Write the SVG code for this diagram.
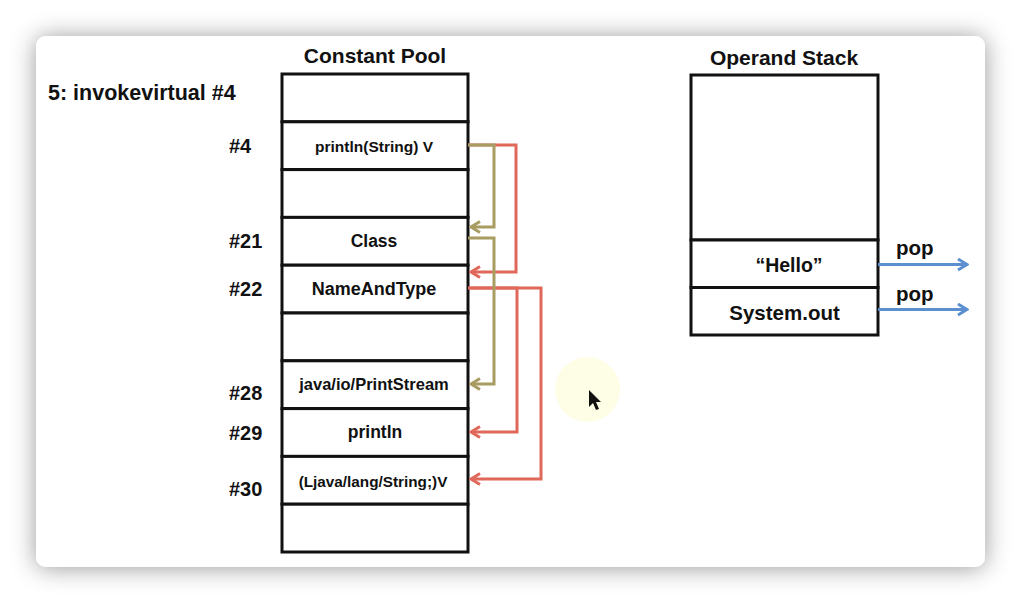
<svg xmlns="http://www.w3.org/2000/svg" width="1022" height="604" viewBox="0 0 1022 604">
<defs>
<filter id="shadow" x="-10%" y="-10%" width="120%" height="120%">
<feDropShadow dx="0" dy="1" stdDeviation="12" flood-color="#000" flood-opacity="0.4"/>
</filter>
<marker id="ahO" viewBox="0 0 14 14" refX="12" refY="7" markerWidth="14" markerHeight="14" markerUnits="userSpaceOnUse" orient="auto">
<path d="M3,1.5 L12,7 L3,12.5" fill="none" stroke="#a89c62" stroke-width="3"/>
</marker>
<marker id="ahR" viewBox="0 0 14 14" refX="12" refY="7" markerWidth="14" markerHeight="14" markerUnits="userSpaceOnUse" orient="auto">
<path d="M3,1.5 L12,7 L3,12.5" fill="none" stroke="#e0685a" stroke-width="3"/>
</marker>
<marker id="ahB" viewBox="0 0 14 14" refX="12" refY="7" markerWidth="14" markerHeight="14" markerUnits="userSpaceOnUse" orient="auto">
<path d="M3,1.5 L12,7 L3,12.5" fill="none" stroke="#5b8fd0" stroke-width="3"/>
</marker>
<style>
text { font-family: "Liberation Sans", Arial, Helvetica, sans-serif; font-weight: bold; fill: #111; }
.cell { fill: #fff; stroke: #111; stroke-width: 3; }
.c { text-anchor: middle; }
.idx { font-size: 20px; }
.title { font-size: 21px; }
.olive { fill: none; stroke: #a89c62; stroke-width: 3; marker-end: url(#ahO); }
.red { fill: none; stroke: #e0685a; stroke-width: 3; marker-end: url(#ahR); }
.blue { fill: none; stroke: #5b8fd0; stroke-width: 3; marker-end: url(#ahB); }
</style>
</defs>
<rect x="0" y="0" width="1022" height="604" fill="#ffffff"/>
<rect x="36" y="36" width="949" height="531" rx="10" ry="10" fill="#ffffff" filter="url(#shadow)"/>

<g id="instruction">
<text x="48" y="100" font-size="21.5">5: invokevirtual #4</text>
</g>

<g id="constant-pool">
<text class="c title" x="375" y="63">Constant Pool</text>
<g id="cp-0"><rect class="cell" x="282" y="74" width="186" height="47.8"/></g>
<g id="cp-4"><rect class="cell" x="282" y="121.8" width="186" height="47.8"/><text class="c" x="374" y="152" font-size="15.5">println(String) V</text></g>
<g id="cp-blank1"><rect class="cell" x="282" y="169.6" width="186" height="47.8"/></g>
<g id="cp-21"><rect class="cell" x="282" y="217.4" width="186" height="47.8"/><text class="c" x="374" y="247" font-size="17.5">Class</text></g>
<g id="cp-22"><rect class="cell" x="282" y="265.2" width="186" height="47.8"/><text class="c" x="374" y="295" font-size="18">NameAndType</text></g>
<g id="cp-blank2"><rect class="cell" x="282" y="313" width="186" height="47.8"/></g>
<g id="cp-28"><rect class="cell" x="282" y="360.8" width="186" height="47.8"/><text class="c" x="374" y="390" font-size="16.5">java/io/PrintStream</text></g>
<g id="cp-29"><rect class="cell" x="282" y="408.6" width="186" height="47.8"/><text class="c" x="375" y="438" font-size="17.5">println</text></g>
<g id="cp-30"><rect class="cell" x="282" y="456.4" width="186" height="47.8"/><text class="c" x="373" y="487" font-size="15.3">(Ljava/lang/String;)V</text></g>
<g id="cp-blank3"><rect class="cell" x="282" y="504.2" width="186" height="47.8"/></g>
</g>

<g id="indices">
<text class="idx" x="229" y="153">#4</text>
<text class="idx" x="229" y="248">#21</text>
<text class="idx" x="229" y="296">#22</text>
<text class="idx" x="229" y="400">#28</text>
<text class="idx" x="229" y="440">#29</text>
<text class="idx" x="229" y="496">#30</text>
</g>

<g id="operand-stack">
<text class="c title" x="784" y="65">Operand Stack</text>
<g id="os-empty"><rect class="cell" x="691" y="75" width="187" height="165"/></g>
<g id="os-hello"><rect class="cell" x="691" y="240" width="187" height="47.5"/><text class="c" x="789" y="272" font-size="19.5">“Hello”</text></g>
<g id="os-systemout"><rect class="cell" x="691" y="287.5" width="187" height="47.5"/><text class="c" x="784.5" y="320" font-size="20.5">System.out</text></g>
</g>

<g id="connectors">
<polyline class="red" points="468,145 516,145 516,272 471,272"/>
<polyline class="red" points="468,288 541,288 541,479 471,479"/>
<polyline class="red" points="468,288 517,288 517,432 471,432"/>
<polyline class="olive" points="468,145 494,145 494,227 471,227"/>
<polyline class="olive" points="468,238 494,238 494,384 471,384"/>
<polyline class="blue" points="878,264.5 967,264.5"/>
<polyline class="blue" points="878,309.5 967,309.5"/>
</g>

<g id="pop-labels">
<text x="896" y="255" font-size="20.5">pop</text>
<text x="896" y="301" font-size="20.5">pop</text>
</g>

<g id="pointer">
<circle cx="587.5" cy="389.5" r="32.5" fill="#fefde6"/>
<polygon points="589,390 589,407 593,403 596,410 599,409 596,402 601,402" fill="#111"/>
</g>
</svg>
